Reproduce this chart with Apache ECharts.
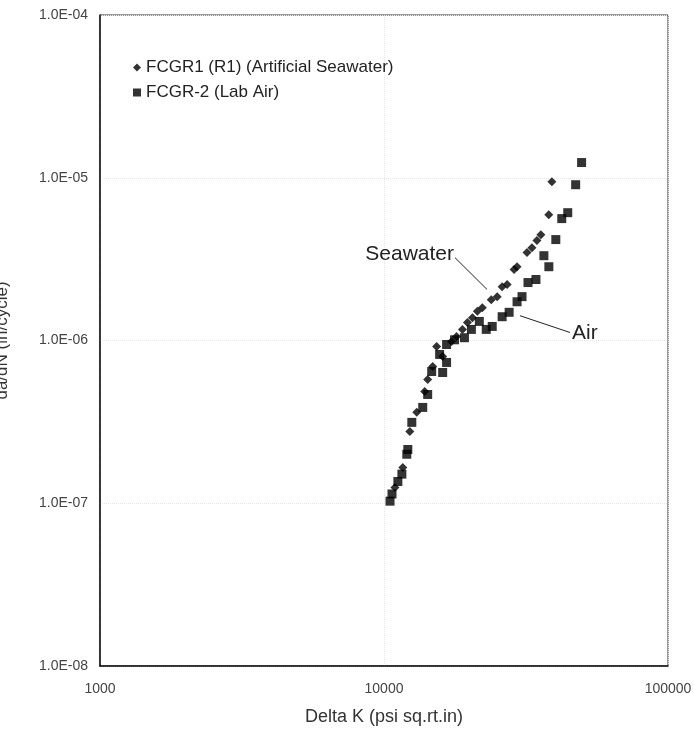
<!DOCTYPE html>
<html><head><meta charset="utf-8">
<script src="https://cdn.jsdelivr.net/npm/echarts@6/dist/echarts.min.js"></script>
<style>html,body{margin:0;padding:0;background:#fff}#c{width:694px;height:730px}</style>
</head><body><div id="c"></div>
<script>
// Delta K (psi sq.rt.in), da/dN (in/cycle)
const seawaterK = [39000,38020,35680,34550,33190,31880,29410,28710,27140,26060,25040,23860,22190,21320,20480,19670,18890,18000,17290,16090,15320,14840,14250,13910,13040,12330,11650,10930];
const seawaterRate = [9.45e-6,5.93e-6,4.47e-6,4.11e-6,3.72e-6,3.47e-6,2.84e-6,2.73e-6,2.21e-6,2.14e-6,1.86e-6,1.78e-6,1.59e-6,1.51e-6,1.38e-6,1.29e-6,1.17e-6,1.06e-6,9.86e-7,7.98e-7,9.19e-7,6.93e-7,5.76e-7,4.86e-7,3.62e-7,2.76e-7,1.66e-7,1.25e-7];
const airK = [49640,47300,44360,42260,40270,36560,38060,34280,32140,30620,29410,27580,26060,24050,22910,21660,20310,19200,17720,16610,15700,16610,14720,16090,14250,13690,12530,12130,12030,11560,11190,10670,10500];
const airRate = [1.24e-5,9.06e-6,6.10e-6,5.61e-6,4.17e-6,3.32e-6,2.84e-6,2.37e-6,2.27e-6,1.86e-6,1.73e-6,1.49e-6,1.40e-6,1.22e-6,1.17e-6,1.31e-6,1.17e-6,1.04e-6,1.01e-6,9.45e-7,8.21e-7,7.33e-7,6.45e-7,6.36e-7,4.66e-7,3.88e-7,3.14e-7,2.14e-7,2.00e-7,1.51e-7,1.36e-7,1.14e-7,1.03e-7];
const xTicks = [1000, 10000, 100000];
const yTicks = [1e-8, 1e-7, 1e-6, 1e-5, 1e-4];
const seawaterName = 'FCGR1 (R1) (Artificial Seawater)';
const airName = 'FCGR-2 (Lab Air)';
// annotation leader lines (data coordinates)
const seaLeader = [[17780, 3.23e-6], [23050, 2.06e-6]];
const airLeader = [[30120, 1.42e-6], [45170, 1.12e-6]];

const zip = (a, b) => a.map((v, i) => [v, b[i]]);
const font = 'Liberation Sans, Arial, sans-serif';
const chart = echarts.init(document.getElementById('c'), null, {renderer: 'canvas'});
const fmtY = v => { const e = Math.round(Math.log10(v)); return '1.0E' + (e < 0 ? '-' : '+') + String(Math.abs(e)).padStart(2, '0'); };
const fmtX = v => String(Math.round(v));

chart.setOption({
  animation: false,
  backgroundColor: '#fff',
  grid: {left: 100, right: 26, top: 15, bottom: 64, containLabel: false, outerBoundsMode: 'none',
         show: true, borderColor: '#333', borderWidth: 1},
  legend: {
    orient: 'vertical', left: 128, top: 54, itemGap: 8, itemWidth: 8, itemHeight: 8,
    textStyle: {fontFamily: font, fontSize: 17, color: '#222'},
    data: [{name: seawaterName, icon: 'diamond'}, {name: airName, icon: 'rect'}]
  },
  xAxis: {
    type: 'log', logBase: 10, min: xTicks[0], max: xTicks[xTicks.length - 1],
    name: 'Delta K (psi sq.rt.in)', nameLocation: 'middle', nameGap: 42,
    nameTextStyle: {fontFamily: font, fontSize: 18, color: '#333'},
    axisLine: {lineStyle: {color: '#111', width: 1.5}},
    axisTick: {show: false},
    axisLabel: {fontFamily: font, fontSize: 14, color: '#444', margin: 16, formatter: fmtX},
    splitLine: {show: true, lineStyle: {color: '#e6e6e6', type: 'dotted'}},
    minorTick: {show: false}
  },
  yAxis: {
    type: 'log', logBase: 10, min: yTicks[0], max: yTicks[yTicks.length - 1],
    name: 'da/dN (in/cycle)', nameLocation: 'middle', nameGap: 89,
    nameTextStyle: {fontFamily: font, fontSize: 17, color: '#333'},
    axisLine: {lineStyle: {color: '#111', width: 1.5}},
    axisTick: {show: false},
    axisLabel: {fontFamily: font, fontSize: 14, color: '#444', margin: 12, formatter: fmtY},
    splitLine: {show: true, lineStyle: {color: '#e6e6e6', type: 'dotted'}}
  },
  series: [
    {
      name: seawaterName, type: 'scatter', symbol: 'diamond', symbolSize: 9,
      itemStyle: {color: '#000'}, data: zip(seawaterK, seawaterRate),
      markLine: {
        silent: true, symbol: 'none', label: {show: false},
        lineStyle: {color: '#222', width: 1, type: 'solid'},
        data: [[{coord: seaLeader[0]}, {coord: seaLeader[1]}], [{coord: airLeader[0]}, {coord: airLeader[1]}]]
      }
    },
    {
      name: airName, type: 'scatter', symbol: 'rect', symbolSize: 9,
      itemStyle: {color: '#000'}, data: zip(airK, airRate)
    }
  ]
});

const ps = chart.convertToPixel({gridIndex: 0}, seaLeader[0]);
const pa = chart.convertToPixel({gridIndex: 0}, airLeader[1]);
chart.setOption({
  graphic: [
    {type: 'text', x: ps[0] - 1, y: ps[1] - 3, style: {text: 'Seawater', font: '21px ' + font, fill: '#222', align: 'right', verticalAlign: 'middle'}},
    {type: 'text', x: pa[0] + 2, y: pa[1] + 1, style: {text: 'Air', font: '21px ' + font, fill: '#222', align: 'left', verticalAlign: 'middle'}}
  ]
});
</script></body></html>
